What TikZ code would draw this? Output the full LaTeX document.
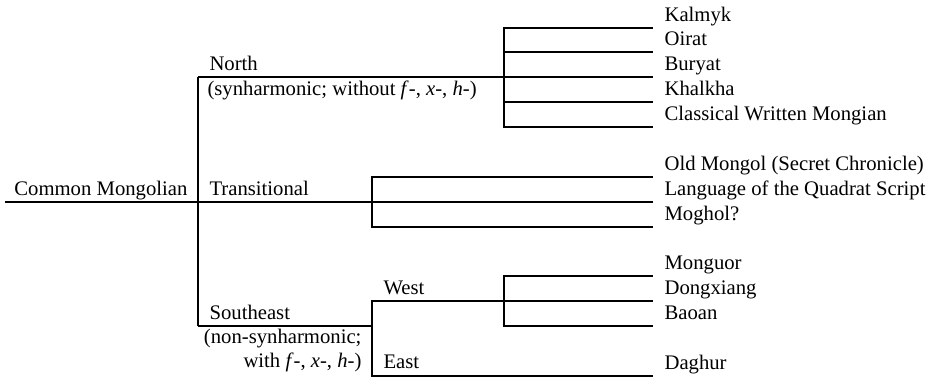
\documentclass[tikz,border=0pt]{standalone}
\usepackage{fontspec}
\setmainfont{Liberation Serif}
\begin{document}
\begin{tikzpicture}[x=0.5pt,y=-0.5pt,line width=0.55pt,
  lab/.style={font=\fontsize{10.35}{12.4}\selectfont, inner sep=0pt, anchor=base west},
  labr/.style={lab, anchor=base east}]
\useasboundingbox (0,0) rectangle (932,377);
% junction coordinates
\coordinate (r0) at (5,202);
\coordinate (r1) at (198,202);
\coordinate (mt) at (198,77);
\coordinate (mb) at (198,326);
\coordinate (nj) at (504,77);
\coordinate (ntop) at (504,28);
\coordinate (nbot) at (504,127);
\coordinate (n2) at (504,52);
\coordinate (n4) at (504,102);
\coordinate (e1) at (653,28);
\coordinate (e2) at (653,52);
\coordinate (e3) at (653,77);
\coordinate (e4) at (653,102);
\coordinate (e5) at (653,127);
\coordinate (ttop) at (372,177);
\coordinate (tbot) at (372,227);
\coordinate (e6) at (653,177);
\coordinate (e7) at (653,202);
\coordinate (e8) at (653,227);
\coordinate (sj) at (372,326);
\coordinate (stop) at (372,301);
\coordinate (sbot) at (372,376);
\coordinate (wtop) at (504,276);
\coordinate (wbot) at (504,326);
\coordinate (e9) at (653,276);
\coordinate (e10) at (653,301);
\coordinate (e11) at (653,326);
\coordinate (e12) at (653,376);
% connectors
\draw (r0) -- (e7);
\draw (mt) -- (mb);
\draw (mt) -- (e3);
\draw (e1) -- (ntop) -- (nbot) -- (e5);
\draw (n2) -- (e2);
\draw (n4) -- (e4);
\draw (e6) -- (ttop) -- (tbot) -- (e8);
\draw (mb) -- (sj);
\draw (e10) -- (stop) -- (sbot) -- (e12);
\draw (e9) -- (wtop) -- (wbot) -- (e11);
% labels
\node[labr] (cm) at (188,195) {Common Mongolian};
\node[lab] (north) at (209,70) {North};
\node[lab] (northx) at (207,95) {(synharmonic; without \textit{f}-, \textit{x}-, \textit{h}-)};
\node[lab] (trans) at (209,195) {Transitional};
\node[lab] (se) at (209,319) {Southeast};
\node[labr] (sex1) at (362,343) {(non-synharmonic;};
\node[labr] (sex2) at (362,367) {with \textit{f}-, \textit{x}-, \textit{h}-)};
\node[lab] (west) at (383,294) {West};
\node[lab] (east) at (383,368) {East};
\node[lab] (l1) at (664,21) {Kalmyk};
\node[lab] (l2) at (664,45) {Oirat};
\node[lab] (l3) at (664,70) {Buryat};
\node[lab] (l4) at (664,95) {Khalkha};
\node[lab] (l5) at (664,120) {Classical Written Mongian};
\node[lab] (l6) at (664,170) {Old Mongol (Secret Chronicle)};
\node[lab] (l7) at (664,195) {Language of the Quadrat Script};
\node[lab] (l8) at (664,220) {Moghol?};
\node[lab] (l9) at (664,269) {Monguor};
\node[lab] (l10) at (664,294) {Dongxiang};
\node[lab] (l11) at (664,319) {Baoan};
\node[lab] (l12) at (664,369) {Daghur};
\end{tikzpicture}
\end{document}
